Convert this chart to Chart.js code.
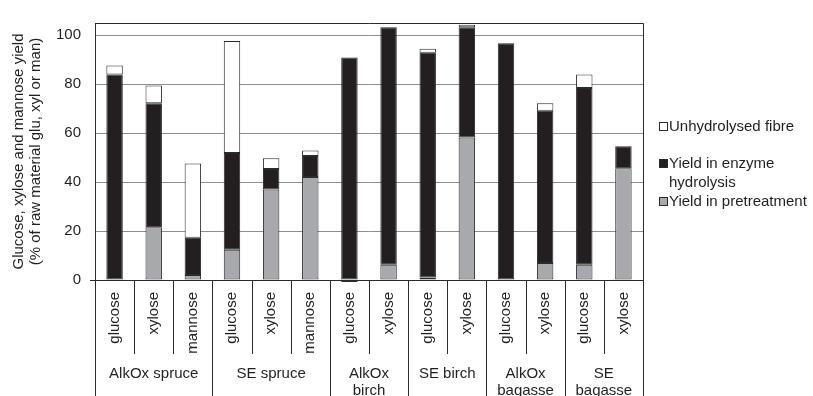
<!DOCTYPE html>
<html>
<head>
<meta charset="utf-8">
<script src="https://cdn.jsdelivr.net/npm/chart.js@4/dist/chart.umd.min.js"></script>
<style>
  html, body { margin: 0; padding: 0; background: #ffffff; }
  #wrap { width: 813px; height: 396px; }
</style>
</head>
<body>
<div id="wrap"><canvas id="c" width="813" height="396"></canvas></div>
<script>
// Sugar per bar and the pretreatment / material group each belongs to
const sugars = ['glucose', 'xylose', 'mannose', 'glucose', 'xylose', 'mannose',
                'glucose', 'xylose', 'glucose', 'xylose', 'glucose', 'xylose', 'glucose', 'xylose'];
const groupNames = [['AlkOx spruce'], ['SE spruce'], ['AlkOx', 'birch'], ['SE birch'], ['AlkOx', 'bagasse'], ['SE', 'bagasse']];
const groupSizes = [3, 3, 2, 2, 2, 2];

// Yields, % of raw material glucose, xylose or mannose
const pretreatmentYield = [0, 21.6, 2.0, 12.4, 37.0, 42.1, -0.8, 6.2, 1.0, 58.2, 0, 6.9, 6.2, 45.7];
const enzymeYield       = [84.0, 50.6, 15.3, 39.5, 8.4, 8.6, 90.9, 97.1, 91.8, 45.1, 96.7, 62.2, 72.2, 8.9];
const unhydrolysedFibre = [3.6, 7.3, 30.3, 45.7, 4.3, 2.2, 0, 0, 1.7, 1.0, 0, 3.1, 5.6, 0];

const yTicks = [0, 20, 40, 60, 80, 100];

const FONT = "'Liberation Sans', Arial, sans-serif";
const INK = '#231f20';
const EDGE = '#2b2b2b';

// Legend entries, listed top to bottom (reverse of stacking order)
const legendItems = [
  { lines: ['Unhydrolysed fibre'], fill: '#ffffff' },
  { lines: ['Yield in enzyme', 'hydrolysis'], fill: INK },
  { lines: ['Yield in pretreatment'], fill: '#a7a9ac' }
];

const decorations = {
  id: 'decorations',
  afterDraw(chart) {
    const { ctx, chartArea: a, scales: { x } } = chart;
    const bottom = chart.height;
    ctx.save();
    ctx.strokeStyle = EDGE;
    ctx.lineWidth = 1;

    // frame: top and right edges of the plot
    ctx.beginPath();
    ctx.moveTo(a.left, a.top + 0.5);
    ctx.lineTo(a.right + 0.5, a.top + 0.5);
    ctx.lineTo(a.right + 0.5, a.bottom);
    ctx.stroke();

    // little tick extending the zero line left of the axis
    ctx.beginPath();
    ctx.moveTo(a.left - 5, Math.round(a.bottom) + 0.5);
    ctx.lineTo(a.left, Math.round(a.bottom) + 0.5);
    ctx.stroke();

    // separators between categories; group boundaries run to the bottom
    const half = (x.getPixelForValue(1) - x.getPixelForValue(0)) / 2;
    const boundaries = new Set([0]);
    let acc = 0;
    groupSizes.forEach(n => { acc += n; boundaries.add(acc); });
    for (let i = 0; i <= sugars.length; i++) {
      const px = Math.round(i < sugars.length ? x.getPixelForValue(i) - half : x.getPixelForValue(i - 1) + half) + 0.5;
      ctx.beginPath();
      ctx.moveTo(px, a.bottom);
      ctx.lineTo(px, boundaries.has(i) ? bottom : a.bottom + 74);
      ctx.stroke();
    }

    // group labels
    ctx.fillStyle = INK;
    ctx.font = '15px ' + FONT;
    ctx.textAlign = 'center';
    ctx.textBaseline = 'middle';
    let start = 0;
    groupSizes.forEach((n, g) => {
      const cx = (x.getPixelForValue(start) + x.getPixelForValue(start + n - 1)) / 2;
      groupNames[g].forEach((line, k) => ctx.fillText(line, cx, a.bottom + 94 + k * 16.5));
      start += n;
    });

    // legend
    ctx.textAlign = 'left';
    let y = 127;
    legendItems.forEach((item, idx) => {
      ctx.fillStyle = item.fill;
      ctx.fillRect(659.5, y - 4.5, 8, 8);
      ctx.strokeStyle = EDGE;
      ctx.strokeRect(659.5, y - 4.5, 8, 8);
      ctx.fillStyle = INK;
      item.lines.forEach((line, k) => ctx.fillText(line, 669, y + k * 19));
      y += item.lines.length * 19 + (idx === 0 ? 18 : 0);
    });
    ctx.restore();
  }
};

const common = { borderColor: EDGE, borderWidth: 1, borderSkipped: false, clip: false,
                 barPercentage: 0.42, categoryPercentage: 1.0 };

new Chart(document.getElementById('c'), {
  type: 'bar',
  data: {
    labels: sugars,
    datasets: [
      Object.assign({ label: 'Yield in pretreatment', data: pretreatmentYield, backgroundColor: '#a7a9ac' }, common),
      Object.assign({ label: 'Yield in enzyme hydrolysis', data: enzymeYield, backgroundColor: INK }, common),
      Object.assign({ label: 'Unhydrolysed fibre', data: unhydrolysedFibre, backgroundColor: '#ffffff' }, common)
    ]
  },
  options: {
    responsive: false,
    animation: false,
    layout: { padding: { top: 12, right: 170, left: 0, bottom: 0 } },
    plugins: { legend: { display: false }, tooltip: { enabled: false } },
    scales: {
      x: {
        stacked: true,
        offset: true,
        grid: { display: false },
        border: { display: true, color: EDGE },
        ticks: {
          autoSkip: false, minRotation: 90, maxRotation: 90, padding: 4,
          color: INK, font: { family: FONT, size: 15 }
        },
        afterFit(scale) { scale.height = 116; }
      },
      y: {
        stacked: true,
        min: 0,
        max: 105,
        grid: { color: '#8e8e8e', drawTicks: false },
        border: { display: true, color: EDGE },
        ticks: { stepSize: 20, padding: 14, color: INK, font: { family: FONT, size: 15 } },
        afterBuildTicks(scale) { scale.ticks = yTicks.map(v => ({ value: v })); },
        afterFit(scale) { scale.width = 95; },
        title: {
          display: true,
          text: ['Glucose, xylose and mannose yield', '(% of raw material glu, xyl or man)'],
          color: INK,
          font: { family: FONT, size: 15, lineHeight: 17 / 15 },
          padding: { top: 10.5, bottom: 0 }
        }
      }
    }
  },
  plugins: [decorations]
});
</script>
</body>
</html>
